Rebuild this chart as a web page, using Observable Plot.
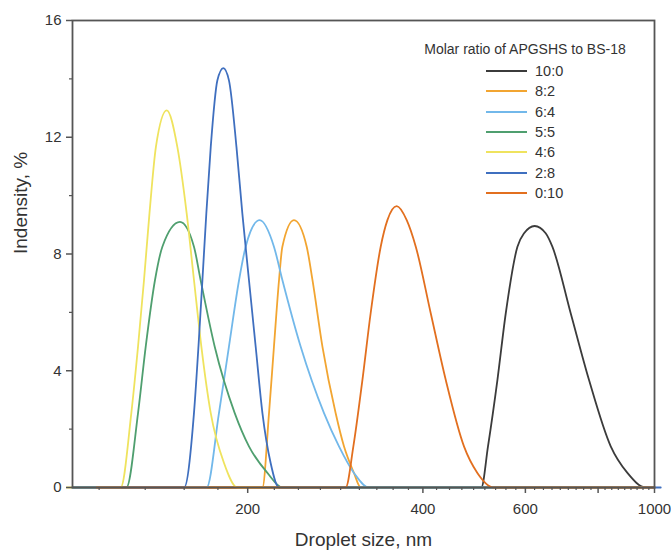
<!DOCTYPE html>
<html>
<head>
<meta charset="utf-8">
<script src="https://cdn.jsdelivr.net/npm/d3@7"></script>
<script src="https://cdn.jsdelivr.net/npm/@observablehq/plot@0.6"></script>
<style>
  html, body { margin: 0; padding: 0; background: #fff; }
  #wrap { position: relative; width: 671px; height: 558px; font-family: "Liberation Sans", Arial, sans-serif; color: #333; }
  #legend { position: absolute; left: 0; top: 0; width: 671px; height: 0; }
  #legend .title { position: absolute; left: 418px; top: 41px; width: 214px; text-align: center; font-size: 14px; white-space: nowrap; }
  #legend .item { position: absolute; left: 486px; height: 20px; display: flex; align-items: center; font-size: 14.5px; }
  #legend .swatch { width: 41px; height: 0; border-top: 2px solid; margin-right: 8px; }
</style>
</head>
<body>
<div id="wrap">
  <div id="chart"></div>
  <div id="legend"></div>
</div>
<script>
// ---- data ----
const legendTitle = "Molar ratio of APGSHS to BS-18";
const ratios = ["10:0", "8:2", "6:4", "5:5", "4:6", "2:8", "0:10"];
const colors = ["#3b3b3b", "#f2a531", "#72b8ea", "#4f9f6f", "#efe35e", "#3f6fbf", "#e26f1f"];

const size_10_0 = [100, 504, 517.5, 537.2, 555.2, 581.4, 596.9, 622.4, 650.2, 667.6, 717.8, 771.6, 841, 898.4, 966, 1000];
const int_10_0  = [0, 0, 1.41, 3.69, 5.97, 8.25, 8.71, 8.96, 8.71, 8.25, 5.97, 3.69, 1.41, 0.5, 0, 0];

const size_8_2 = [100, 212, 217.6, 221.9, 226.4, 229.4, 240.2, 252.6, 258.4, 268.8, 283.2, 292.7, 304.5, 312.8, 1000];
const int_8_2  = [0, 0, 2.55, 4.83, 7.11, 8.25, 9.16, 8.25, 7.11, 4.83, 2.55, 1.41, 0.5, 0, 0];

const size_6_4 = [100, 170, 178.5, 185.7, 193.3, 198.4, 209.7, 221.9, 229.4, 246.6, 270.5, 287, 304.5, 322.8, 1000];
const int_6_4  = [0, 0, 2.55, 4.83, 7.11, 8.25, 9.16, 8.25, 7.11, 4.83, 2.55, 1.41, 0.5, 0, 0];

const size_5_5 = [100, 123.8, 129.6, 133.6, 138.6, 142.7, 153, 161.7, 166, 175.5, 190, 201, 216.2, 229.4, 1000];
const int_5_5  = [0, 0, 2.55, 4.83, 7.11, 8.25, 9.1, 8.25, 7.11, 4.83, 2.55, 1.41, 0.5, 0, 0];

const size_4_6 = [97.8, 121, 126.2, 129.6, 132.7, 135.6, 139.1, 145.2, 151.4, 157.1, 161.7, 166.5, 172.8, 182.1, 192, 1000];
const int_4_6  = [0, 0, 2.55, 4.83, 7.11, 9.39, 11.67, 12.92, 11.67, 9.39, 7.11, 4.83, 2.55, 0.84, 0, 0];

const size_2_8 = [100, 155.5, 161.7, 164.6, 167.2, 169.8, 172.8, 177.4, 181.6, 185.7, 191.3, 195.8, 201, 206.4, 212, 219, 226.4, 1025];
const int_2_8  = [0, 0, 2.55, 4.83, 7.11, 9.39, 11.67, 13.95, 14.37, 13.95, 11.67, 9.39, 7.11, 4.83, 2.55, 0.84, 0, 0];

const size_0_10 = [110, 294.7, 303.8, 314.9, 325.3, 338.5, 347.6, 360.6, 375.2, 388.9, 412.6, 437.8, 470.6, 496.2, 530, 1000];
const int_0_10  = [0, 0, 1.41, 3.69, 5.97, 8.25, 9.16, 9.64, 9.16, 8.25, 5.97, 3.69, 1.41, 0.5, 0, 0];

const xTickValues = [200, 400, 600, 800, 1000];
const yTickValues = [0, 4, 8, 12, 16];
const yMinorTicks = [2, 6, 10, 14];
const xLabel = "Droplet size, nm";
const yLabel = "Indensity, %";

// ---- build table ----
const seriesSizes = [size_10_0, size_8_2, size_6_4, size_5_5, size_4_6, size_2_8, size_0_10];
const seriesInts  = [int_10_0, int_8_2, int_6_4, int_5_5, int_4_6, int_2_8, int_0_10];
const rows = [];
ratios.forEach((r, i) => {
  seriesSizes[i].forEach((s, j) => rows.push({ratio: r, size: s, value: seriesInts[i][j]}));
});
// minor ticks every 200/9 nm on the log axis
const xMinorTicks = d3.range(5, 46).map(n => n * 200 / 9).filter(v => !xTickValues.some(t => Math.abs(t - v) < 1e-6));

const axisColor = "#555";
const chart = Plot.plot({
  width: 671,
  height: 558,
  marginLeft: 72,
  marginRight: 17,
  marginTop: 20,
  marginBottom: 71,
  style: {fontFamily: "'Liberation Sans', Arial, sans-serif", fontSize: "15px", color: "#333", background: "white", overflow: "visible"},
  x: {type: "log", domain: [100, 1000]},
  y: {domain: [0, 16]},
  color: {domain: ratios, range: colors},
  marks: [
    ...ratios.map(r => Plot.line(rows.filter(d => d.ratio === r), {x: "size", y: "value", stroke: colors[ratios.indexOf(r)], strokeWidth: 1.8, curve: "monotone-x"})),
    Plot.frame({stroke: axisColor, strokeWidth: 1.8}),
    Plot.axisX(xTickValues, {tickSize: 6, tickPadding: 10, tickFormat: d3.format("d"), stroke: axisColor, fill: "#333", fontSize: 15, label: null, strokeWidth: 1.5}),
    Plot.axisX(xMinorTicks, {tickSize: 3, tickFormat: () => "", stroke: axisColor, label: null, strokeWidth: 1.2}),
    Plot.axisY(yTickValues, {tickSize: 6, tickPadding: 5, stroke: axisColor, fill: "#333", fontSize: 15, label: null, strokeWidth: 1.5}),
    Plot.axisY(yMinorTicks, {tickSize: 3, tickFormat: () => "", stroke: axisColor, label: null, strokeWidth: 1.2}),
    Plot.text([xLabel], {frameAnchor: "bottom", dy: 58, fontSize: 19, fill: "#333"}),
    Plot.text([yLabel], {frameAnchor: "left", dx: -52, rotate: -90, fontSize: 19, fill: "#333"})
  ]
});
document.getElementById("chart").appendChild(chart);

// ---- legend ----
const leg = document.getElementById("legend");
const t = document.createElement("div");
t.className = "title";
t.textContent = legendTitle;
leg.appendChild(t);
ratios.forEach((r, i) => {
  const it = document.createElement("div");
  it.className = "item";
  it.style.top = (61 + i * 20.3) + "px";
  const sw = document.createElement("span");
  sw.className = "swatch";
  sw.style.borderTopColor = colors[i];
  const lb = document.createElement("span");
  lb.textContent = r;
  it.appendChild(sw);
  it.appendChild(lb);
  leg.appendChild(it);
});
</script>
</body>
</html>
